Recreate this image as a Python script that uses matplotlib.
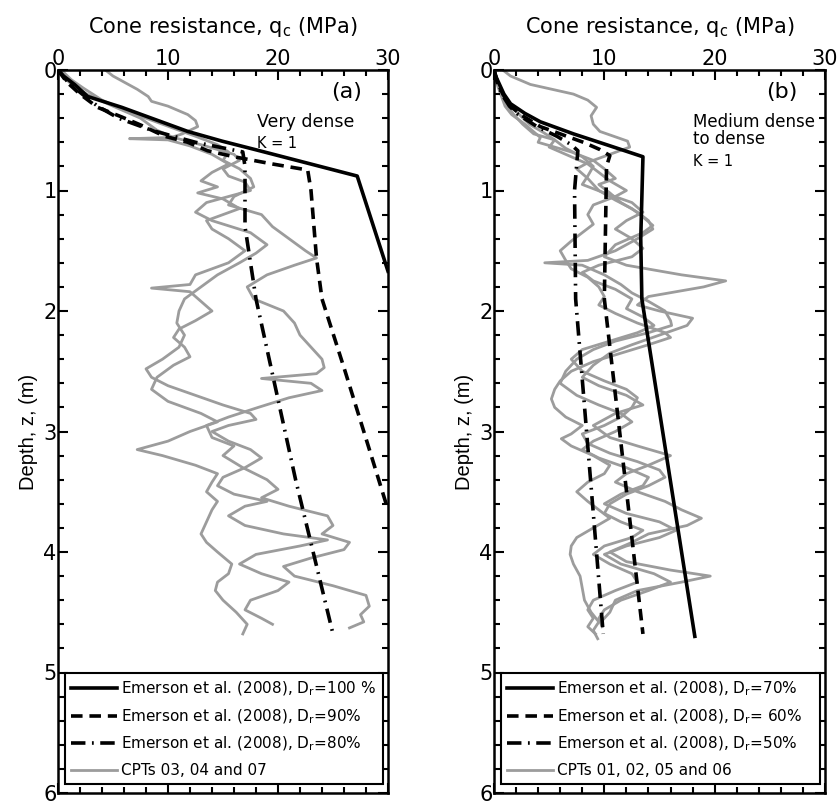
import matplotlib
matplotlib.use("Agg")
import matplotlib.pyplot as plt
import numpy as np

plt.rcParams['font.family'] = ['DejaVu Sans']
plt.rcParams['mathtext.fontset'] = 'dejavusans'
plt.rcParams['lines.solid_joinstyle'] = 'round'
plt.rcParams['lines.dash_joinstyle'] = 'round'

# ---------------- Panel (a) theoretical curves (depth z [m], qc [MPa]) ----------------
a_dr100_z = [0.0, 0.05, 0.12, 0.22, 0.31, 0.41, 0.51, 0.59, 0.66, 0.88, 1.67]
a_dr100_q = [0.0, 0.5, 1.5, 2.7, 5.8, 8.8, 11.8, 14.9, 17.9, 27.2, 30.0]
a_dr90_z = [0.0, 0.10, 0.20, 0.31, 0.39, 0.46, 0.55, 0.60, 0.67, 0.72, 0.78, 0.83, 1.00,
            1.56, 1.90, 2.50, 3.00, 3.65]
a_dr90_q = [0.0, 0.8, 2.0, 3.6, 5.8, 7.6, 9.7, 11.8, 13.6, 16.0, 19.5, 22.7, 23.0,
            23.5, 24.0, 26.1, 27.8, 30.0]
a_dr80_z = [0.0, 0.10, 0.20, 0.30, 0.40, 0.50, 0.60, 0.68, 0.80, 1.30, 1.90, 3.40, 4.68]
a_dr80_q = [0.0, 0.9, 2.2, 3.6, 5.5, 8.5, 12.5, 16.8, 17.0, 17.0, 18.0, 21.6, 25.0]

# ---------------- Panel (a) CPT 03, 04, 07 ----------------
cpt_a1_z = [0.00, 0.08, 0.15, 0.25, 0.35, 0.45, 0.55, 0.62, 0.68, 0.75, 0.82, 0.90, 0.97, 1.05,
            1.12, 1.20, 1.30, 1.40, 1.50, 1.56, 1.62, 1.70, 1.80, 1.90, 2.00, 2.10, 2.20, 2.30,
            2.40, 2.47, 2.52, 2.56, 2.60, 2.66, 2.72, 2.80, 2.88, 2.95, 3.05, 3.12, 3.20, 3.30,
            3.40, 3.48, 3.55, 3.62, 3.70, 3.78, 3.85, 3.92, 3.98, 4.05, 4.12, 4.20, 4.28, 4.36,
            4.45, 4.52, 4.58, 4.63]
cpt_a1_q = [0.3, 1.2, 2.3, 4.0, 6.5, 9.5, 12.5, 14.5, 15.5, 15.0, 16.5, 17.5, 17.8, 16.0,
            15.5, 18.5, 19.5, 21.0, 22.5, 23.5, 21.5, 19.0, 17.2, 17.8, 20.5, 21.5, 22.0, 23.0,
            24.0, 24.2, 23.5, 18.5, 23.0, 24.0, 21.0, 18.2, 15.5, 13.5, 14.0, 16.0, 15.0, 16.8,
            19.0, 20.0, 18.5, 21.0, 24.5, 25.0, 24.0, 26.5, 26.0, 23.0, 20.5, 21.5, 25.0, 28.0,
            28.3, 27.5, 27.8, 26.5]
cpt_a2_z = [0.00, 0.05, 0.10, 0.16, 0.22, 0.26, 0.30, 0.37, 0.42, 0.47, 0.53, 0.56, 0.57, 0.58,
            0.63, 0.70, 0.78, 0.85, 0.92, 0.97, 1.02, 1.07, 1.15, 1.25, 1.32, 1.40, 1.50, 1.60,
            1.70, 1.78, 1.81, 1.84, 1.92, 2.00, 2.08, 2.15, 2.22, 2.30, 2.38, 2.45, 2.55, 2.65,
            2.75, 2.85, 2.92, 3.00, 3.08, 3.15, 3.20, 3.28, 3.35, 3.42, 3.50, 3.58, 3.65, 3.75,
            3.85, 3.92, 4.00, 4.10, 4.18, 4.25, 4.32, 4.40, 4.50, 4.60, 4.68]
cpt_a2_q = [4.3, 5.0, 6.0, 7.2, 8.2, 8.5, 10.0, 11.8, 12.5, 12.7, 11.3, 10.3, 6.5, 10.0,
            12.0, 14.0, 15.5, 14.0, 13.0, 14.5, 12.7, 15.0, 16.5, 13.5, 14.0, 15.5, 17.0, 15.5,
            12.5, 12.0, 8.5, 12.0, 13.0, 14.0, 12.5, 11.0, 10.5, 11.5, 12.0, 10.5, 9.0, 8.5,
            10.0, 13.0, 14.5, 12.0, 10.0, 7.2, 9.5, 12.5, 14.5, 14.0, 13.5, 14.5, 14.0, 13.5,
            13.0, 13.5, 14.5, 15.8, 15.5, 14.5, 14.3, 15.0, 16.2, 17.2, 16.8]
cpt_a3_z = [0.00, 0.10, 0.20, 0.30, 0.40, 0.50, 0.56, 0.62, 0.70, 0.75, 0.82, 0.88, 0.93, 1.00,
            1.05, 1.10, 1.18, 1.25, 1.35, 1.45, 1.52, 1.60, 1.70, 1.80, 1.90, 2.00, 2.10, 2.20,
            2.30, 2.40, 2.48, 2.55, 2.62, 2.70, 2.78, 2.85, 2.90, 2.95, 3.00, 3.08, 3.15, 3.22,
            3.30, 3.38, 3.45, 3.52, 3.58, 3.62, 3.70, 3.78, 3.85, 3.90, 3.95, 4.02, 4.10, 4.18,
            4.25, 4.32, 4.40, 4.48, 4.55, 4.60]
cpt_a3_q = [0.0, 1.0, 2.6, 5.0, 7.5, 9.0, 10.5, 13.0, 16.0, 16.5, 15.0, 15.5, 17.0, 17.5,
            15.5, 13.5, 12.5, 14.0, 17.5, 19.0, 18.0, 16.5, 14.5, 13.0, 11.5, 11.0, 10.8, 11.5,
            11.0, 9.5, 8.0, 8.5, 10.0, 12.5, 15.0, 17.5, 18.0, 15.5, 14.0, 15.5, 17.5, 18.5,
            17.0, 15.0, 14.5, 16.0, 19.0, 17.0, 15.5, 17.0, 20.5, 24.5, 22.0, 18.0, 16.5, 18.5,
            21.0, 20.0, 17.5, 17.0, 18.5, 19.5]

# ---------------- Panel (b) theoretical curves ----------------
b_dr70_z = [0.0, 0.05, 0.12, 0.20, 0.28, 0.36, 0.43, 0.53, 0.62, 0.72, 1.40, 1.90, 4.70]
b_dr70_q = [0.0, 0.15, 0.5, 0.9, 1.5, 2.8, 4.2, 7.2, 10.2, 13.5, 13.3, 13.4, 18.2]
b_dr60_z = [0.0, 0.10, 0.20, 0.30, 0.37, 0.47, 0.55, 0.60, 0.66, 0.71, 0.80, 1.90, 4.68]
b_dr60_q = [0.0, 0.3, 0.8, 1.5, 2.4, 4.2, 6.6, 8.1, 9.6, 10.5, 10.2, 10.0, 13.5]
b_dr50_z = [0.0, 0.10, 0.20, 0.30, 0.37, 0.47, 0.55, 0.62, 0.67, 1.00, 1.90, 4.68]
b_dr50_q = [0.0, 0.3, 0.7, 1.4, 2.2, 3.9, 5.7, 7.0, 7.6, 7.3, 7.4, 9.9]

# ---------------- Panel (b) CPT 01, 02, 05, 06 ----------------
cpt_b1_z = [0.00, 0.05, 0.12, 0.20, 0.25, 0.31, 0.38, 0.45, 0.51, 0.59, 0.64, 0.70, 0.76, 0.82,
            0.90, 1.00, 1.08, 1.15, 1.22, 1.29, 1.35, 1.45, 1.55, 1.62, 1.70, 1.75, 1.80, 1.88,
            1.95, 2.00, 2.06, 2.12, 2.20, 2.28, 2.35, 2.45, 2.55, 2.62, 2.70, 2.78, 2.85, 2.95,
            3.05, 3.12, 3.20, 3.28, 3.35, 3.42, 3.50, 3.58, 3.65, 3.72, 3.78, 3.85, 3.92, 4.00,
            4.08, 4.15, 4.20, 4.25, 4.32, 4.40, 4.50, 4.56]
cpt_b1_q = [0.8, 1.5, 3.3, 7.2, 8.5, 9.3, 8.8, 9.0, 9.6, 12.1, 12.3, 10.5, 8.7, 7.5,
            8.5, 9.5, 11.0, 12.5, 13.5, 14.4, 13.5, 11.0, 10.0, 12.0, 17.0, 21.0, 19.0, 14.0,
            13.0, 15.0, 18.0, 17.5, 15.0, 12.5, 10.5, 9.0, 8.0, 9.5, 12.0, 13.5, 11.0, 9.0,
            10.5, 13.0, 16.0, 14.0, 12.0, 11.0, 13.0, 15.5, 17.0, 18.8, 17.5, 14.0, 12.5, 10.5,
            12.0, 16.0, 19.6, 17.0, 13.0, 11.0, 10.5, 9.9]
cpt_b2_z = [0.00, 0.10, 0.20, 0.30, 0.37, 0.45, 0.56, 0.60, 0.64, 0.68, 0.75, 0.82, 0.90, 0.95,
            1.02, 1.10, 1.18, 1.25, 1.32, 1.40, 1.50, 1.58, 1.60, 1.62, 1.70, 1.78, 1.85, 1.92,
            2.00, 2.08, 2.12, 2.18, 2.25, 2.32, 2.40, 2.50, 2.60, 2.70, 2.78, 2.85, 2.92, 3.00,
            3.08, 3.15, 3.22, 3.30, 3.38, 3.45, 3.52, 3.60, 3.68, 3.75, 3.82, 3.88, 3.95, 4.02,
            4.10, 4.18, 4.25, 4.32, 4.40, 4.48, 4.55, 4.62]
cpt_b2_q = [0.0, 0.2, 0.6, 1.0, 1.6, 2.8, 4.2, 4.0, 5.5, 7.0, 9.0, 10.0, 11.0, 9.5,
            10.5, 11.5, 13.0, 14.0, 14.4, 13.0, 11.0, 8.5, 4.6, 8.0, 10.0, 11.5, 12.5, 14.0,
            15.5, 16.0, 16.1, 14.0, 11.0, 9.0, 7.5, 6.5, 6.0, 7.5, 9.5, 11.5, 12.5, 11.0,
            9.0, 8.0, 9.5, 12.0, 14.0, 13.5, 11.5, 10.0, 12.0, 15.0, 16.5, 15.0, 12.0, 10.0,
            11.5, 14.5, 16.0, 14.0, 11.5, 10.0, 9.5, 9.8]
cpt_b3_z = [0.00, 0.10, 0.20, 0.30, 0.37, 0.45, 0.53, 0.58, 0.64, 0.70, 0.78, 0.85, 0.92, 1.00,
            1.05, 1.12, 1.20, 1.28, 1.35, 1.42, 1.50, 1.58, 1.65, 1.72, 1.80, 1.88, 1.95, 2.02,
            2.10, 2.18, 2.22, 2.28, 2.35, 2.42, 2.50, 2.58, 2.65, 2.73, 2.80, 2.88, 2.95, 3.02,
            3.06, 3.12, 3.20, 3.28, 3.35, 3.42, 3.50, 3.58, 3.65, 3.72, 3.80, 3.88, 3.95, 4.02,
            4.10, 4.20, 4.30, 4.40, 4.50, 4.58, 4.65, 4.72]
cpt_b3_q = [0.0, 0.3, 0.7, 1.2, 1.8, 2.6, 3.6, 5.5, 5.0, 6.5, 8.5, 9.5, 10.5, 12.0,
            11.0, 9.0, 8.5, 9.0, 8.0, 7.0, 6.0, 6.5, 7.0, 8.5, 9.5, 10.0, 9.5, 11.0,
            13.0, 15.5, 16.0, 14.0, 11.5, 9.0, 7.0, 6.0, 5.5, 5.2, 5.5, 6.5, 8.0, 7.0,
            6.1, 7.0, 9.0, 10.5, 10.0, 8.5, 7.5, 8.5, 9.5, 10.5, 9.0, 7.5, 7.0, 6.9,
            7.2, 7.8, 8.0, 8.2, 8.8, 9.5, 9.0, 9.4]
cpt_b4_z = [0.00, 0.10, 0.20, 0.30, 0.37, 0.45, 0.52, 0.58, 0.65, 0.72, 0.80, 0.88, 0.95, 1.02,
            1.10, 1.18, 1.25, 1.32, 1.40, 1.48, 1.55, 1.62, 1.68, 1.75, 1.82, 1.90, 1.98, 2.05,
            2.12, 2.18, 2.25, 2.32, 2.40, 2.50, 2.58, 2.65, 2.72, 2.80, 2.88, 2.95, 3.02, 3.10,
            3.18, 3.25, 3.32, 3.38, 3.45, 3.52, 3.60, 3.68, 3.75, 3.82, 3.88, 3.95, 4.02, 4.10,
            4.18, 4.25, 4.32, 4.40, 4.48, 4.55, 4.62, 4.68]
cpt_b4_q = [0.0, 0.3, 0.9, 1.6, 2.3, 3.2, 4.5, 5.5, 6.5, 8.0, 9.0, 8.5, 8.0, 10.0,
            12.5, 13.5, 12.0, 11.0, 12.5, 13.5, 12.5, 9.5, 8.0, 9.0, 11.0, 12.5, 12.0, 13.5,
            14.5, 13.0, 10.5, 8.0, 7.0, 8.0, 10.0, 12.0, 13.0, 12.5, 11.5, 10.0, 8.0, 8.5,
            10.5, 13.0, 15.0, 15.5, 14.0, 12.0, 10.5, 10.0, 11.5, 13.5, 12.5, 10.0, 9.0, 10.5,
            12.5, 13.0, 11.0, 9.0, 8.5, 9.0, 8.5, 9.2]

labels_a = [r"Emerson et al. (2008), D$_\mathrm{r}$=100 %", r"Emerson et al. (2008), D$_\mathrm{r}$=90%",
            r"Emerson et al. (2008), D$_\mathrm{r}$=80%", "CPTs 03, 04 and 07"]
labels_b = [r"Emerson et al. (2008), D$_\mathrm{r}$=70%", r"Emerson et al. (2008), D$_\mathrm{r}$= 60%",
            r"Emerson et al. (2008), D$_\mathrm{r}$=50%", "CPTs 01, 02, 05 and 06"]

GREY = '#9c9c9c'
LW = 2.6

fig = plt.figure(figsize=(8.39, 8.10), dpi=100)
axA = fig.add_axes([58/839, 1-793/810, 330/839, 723/810])
axB = fig.add_axes([494/839, 1-793/810, 331/839, 723/810])


def style(ax):
    ax.set_xlim(0, 30)
    ax.set_ylim(6, 0)
    ax.xaxis.tick_top()
    ax.xaxis.set_label_position('top')
    ax.set_xticks([0, 10, 20, 30])
    ax.set_xticks(np.arange(0, 31, 2), minor=True)
    ax.set_yticks([0, 1, 2, 3, 4, 5, 6])
    ax.set_yticks(np.arange(0, 6.01, 0.2), minor=True)
    ax.tick_params(which='both', direction='in', top=True, bottom=True, left=True, right=True,
                   width=1.5)
    ax.tick_params(which='major', length=7, labelsize=15, pad=1)
    ax.tick_params(which='minor', length=4)
    for s in ax.spines.values():
        s.set_linewidth(1.8)
    ax.set_xlabel(r"Cone resistance, q$_\mathrm{c}$ (MPa)", fontsize=15, labelpad=11)
    ax.set_ylabel("Depth, z, (m)", fontsize=14.5, labelpad=4, family='Liberation Sans')


def panel(ax, th, cpts, labels):
    styles = ['-', (0, (3.2, 1.9)), (0, (4.0, 1.8, 0.5, 1.8))]
    for (z, q), ls, lab in zip(th, styles, labels[:3]):
        ax.plot(q, z, color='black', lw=LW, linestyle=ls, label=lab)
    for i, (z, q) in enumerate(cpts):
        ax.plot(q, z, color=GREY, lw=2.0, label=labels[3] if i == 0 else None, zorder=1)
    leg = ax.legend(loc='lower left', bbox_to_anchor=(0.02, 0.012, 0.965, 0.157),
                    mode='expand', borderaxespad=0, fancybox=False, fontsize=11,
                    handlelength=3.0, handletextpad=0.3, labelspacing=0.62,
                    borderpad=0.42, framealpha=1)
    leg.get_frame().set_edgecolor('black')
    leg.get_frame().set_linewidth(1.5)


style(axA)
style(axB)
panel(axA, [(a_dr100_z, a_dr100_q), (a_dr90_z, a_dr90_q), (a_dr80_z, a_dr80_q)],
      [(cpt_a1_z, cpt_a1_q), (cpt_a2_z, cpt_a2_q), (cpt_a3_z, cpt_a3_q)], labels_a)
panel(axB, [(b_dr70_z, b_dr70_q), (b_dr60_z, b_dr60_q), (b_dr50_z, b_dr50_q)],
      [(cpt_b1_z, cpt_b1_q), (cpt_b2_z, cpt_b2_q), (cpt_b3_z, cpt_b3_q), (cpt_b4_z, cpt_b4_q)],
      labels_b)

axA.text(27.6, 0.235, "(a)", fontsize=16, ha='right', va='baseline')
axA.text(18.1, 0.47, "Very dense", fontsize=12.5, ha='left', va='baseline')
axA.text(18.1, 0.645, "K = 1", fontsize=10.5, ha='left', va='baseline')

axB.text(27.5, 0.235, "(b)", fontsize=16, ha='right', va='baseline')
axB.text(18.0, 0.47, "Medium dense", fontsize=12, ha='left', va='baseline')
axB.text(18.0, 0.61, "to dense", fontsize=12, ha='left', va='baseline')
axB.text(18.0, 0.80, "K = 1", fontsize=10.5, ha='left', va='baseline')

fig.savefig("out.png", dpi=100)
